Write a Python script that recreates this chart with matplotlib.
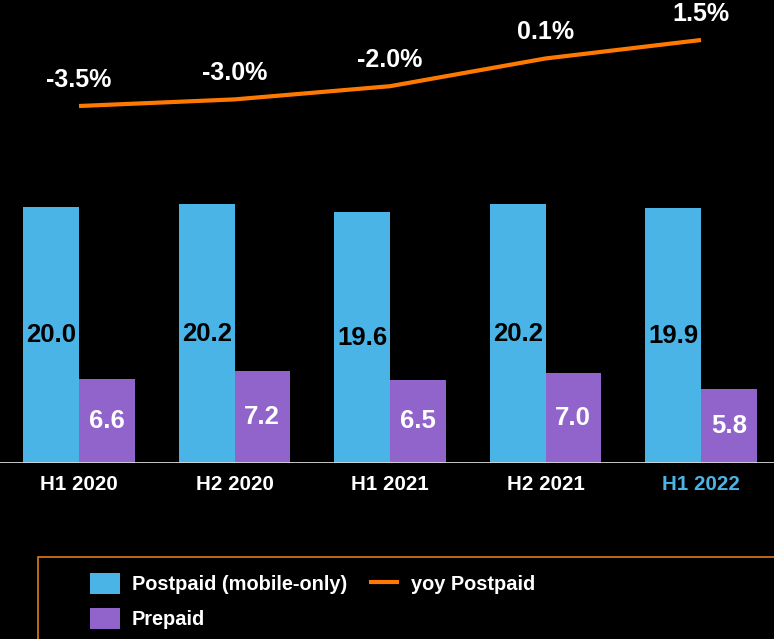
import matplotlib
matplotlib.use("Agg")
import matplotlib.pyplot as plt
from matplotlib.patches import Rectangle
import numpy as np

periods = ["H1 2020", "H2 2020", "H1 2021", "H2 2021", "H1 2022"]
postpaid = [20.0, 20.2, 19.6, 20.2, 19.9]
prepaid = [6.6, 7.2, 6.5, 7.0, 5.8]
yoy_postpaid = [-3.5, -3.0, -2.0, 0.1, 1.5]
yoy_labels = ["-3.5%", "-3.0%", "-2.0%", "0.1%", "1.5%"]

BLUE = "#4BB4E6"
PURPLE = "#9164CC"
ORANGE = "#FF7900"

plt.rcParams["font.family"] = ["Liberation Sans", "DejaVu Sans"]
plt.rcParams["font.weight"] = "bold"

W, H = 774, 639
fig = plt.figure(figsize=(W / 100, H / 100), dpi=100, facecolor="black")

base_px = 463
ax = fig.add_axes([0, (H - base_px) / H, 1, base_px / H])
ax.set_facecolor("black")
x = np.arange(len(periods))
bw = 0.357
b1 = ax.bar(x - bw / 2, postpaid, bw, color=BLUE, zorder=2)
b2 = ax.bar(x + bw / 2, prepaid, bw, color=PURPLE, zorder=2)
ax.set_xlim(-79 / 155.5, (W - 79) / 155.5)
ax.set_ylim(0, base_px / 12.8)
ax.bar_label(b1, labels=[f"{v:.1f}" for v in postpaid], label_type="center",
             color="black", fontsize=18.5, fontweight="bold")
ax.bar_label(b2, labels=[f"{v:.1f}" for v in prepaid], label_type="center",
             color="white", fontsize=18.5, fontweight="bold")
ax.axhline(0, color="#d8d8d8", linewidth=2.0, zorder=3)
for s in ax.spines.values():
    s.set_visible(False)
ax.set_yticks([])
ax.set_xticks(x)
ax.set_xticklabels(periods, fontsize=14.8, fontweight="bold", color="white")
ax.get_xticklabels()[-1].set_color(BLUE)
ax.tick_params(axis="x", length=0, pad=9)

ax2 = ax.twinx()
ax2.set_ylim(-3.5 - (base_px - 106) / 13.2, -3.5 + 106 / 13.2)
ax2.set_yticks([])
for s in ax2.spines.values():
    s.set_visible(False)
line, = ax2.plot(x, yoy_postpaid, color=ORANGE, linewidth=3, solid_capstyle="butt")
for xi, v, lab in zip(x, yoy_postpaid, yoy_labels):
    ax2.annotate(lab, (xi, v), xytext=(0, 18.8), textcoords="offset points",
                 ha="center", va="center", color="white", fontsize=18,
                 fontweight="bold")

# legend frame
fig.patches.append(Rectangle((37.5 / W, -0.05), 1.0, (H - 557) / H + 0.05,
                             transform=fig.transFigure, fill=False,
                             edgecolor="#E07A1E", linewidth=1.2))
leg = fig.legend([b1, b2, line], ["Postpaid (mobile-only)", "Prepaid", "yoy Postpaid"],
                 ncol=2, loc="upper left", bbox_to_anchor=(90 / W, 1 - 573 / H),
                 frameon=False, fontsize=14.4, handlelength=1.5, handleheight=1.2,
                 handletextpad=0.6, columnspacing=1.1, labelspacing=0.7,
                 borderpad=0, borderaxespad=0)
for t in leg.get_texts():
    t.set_color("white")
    t.set_fontweight("bold")

fig.savefig("out.png", dpi=100, facecolor="black")
